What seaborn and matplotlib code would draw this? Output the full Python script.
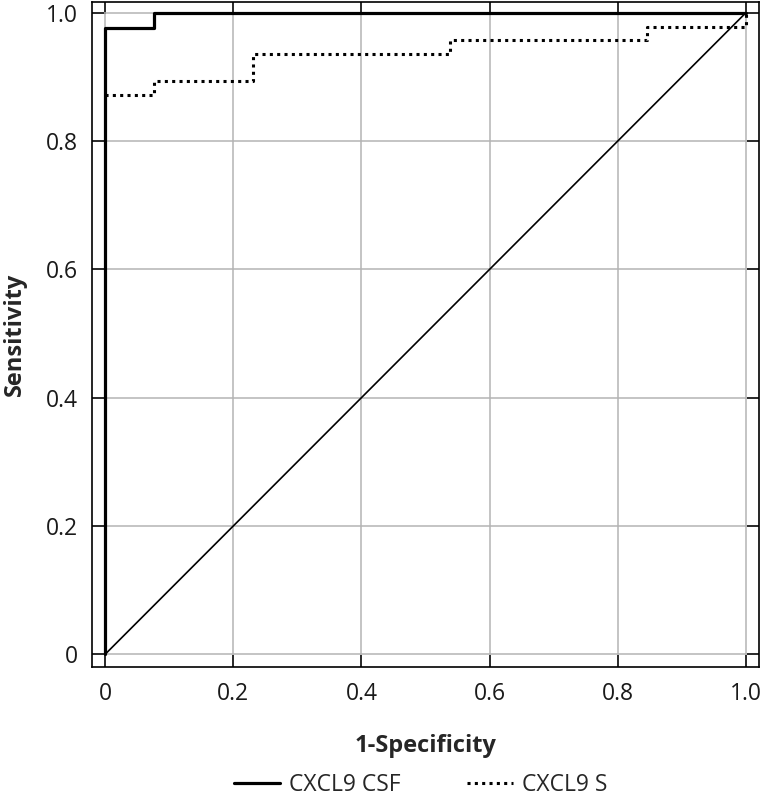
import numpy as np
import pandas as pd
import matplotlib
matplotlib.use("Agg")
import matplotlib.pyplot as plt
import seaborn as sns
from matplotlib.lines import Line2D

# ROC step coordinates
csf_fpr = [0, 0, 1/13, 1/13, 1.0]
csf_tpr = [0, 42/43, 42/43, 1.0, 1.0]

s_fpr = [0, 1/13, 1/13, 3/13, 3/13, 7/13, 7/13, 11/13, 11/13, 1.0, 1.0]
s_tpr = [41/47, 41/47, 42/47, 42/47, 44/47, 44/47, 45/47, 45/47, 46/47, 46/47, 1.0]

ref_x = [0, 1]
ref_y = [0, 1]

ticks = [0, 0.2, 0.4, 0.6, 0.8, 1.0]
tick_labels = ["0", "0.2", "0.4", "0.6", "0.8", "1.0"]
series_names = ["CXCL9 CSF", "CXCL9 S"]

sns.set_theme(style="white")
plt.rcParams['font.family'] = ['Open Sans', 'DejaVu Sans']

fig = plt.figure(figsize=(7.65, 7.97), dpi=100)
ax = fig.add_axes([0.1203, 0.163, 0.992 - 0.1203, 0.9975 - 0.163])

df_csf = pd.DataFrame({"x": csf_fpr, "y": csf_tpr})
df_s = pd.DataFrame({"x": s_fpr, "y": s_tpr})
df_ref = pd.DataFrame({"x": ref_x, "y": ref_y})

dot_style = (0, (1, 1.4))

sns.lineplot(data=df_ref, x="x", y="y", sort=False, estimator=None, ax=ax,
             color="black", lw=1.2, zorder=3)
sns.lineplot(data=df_s, x="x", y="y", sort=False, estimator=None, ax=ax,
             color="black", lw=2.2, linestyle=dot_style, zorder=4)
sns.lineplot(data=df_csf, x="x", y="y", sort=False, estimator=None, ax=ax,
             color="black", lw=2.3, zorder=5)

ax.set_xlim(-0.0205, 1.0205)
ax.set_ylim(-0.02, 1.017)
ax.set_xticks(ticks)
ax.set_xticklabels(tick_labels)
ax.set_yticks(ticks)
ax.set_yticklabels(tick_labels)
ax.grid(True, color="#b4b4b4", lw=1.1)
ax.set_axisbelow(True)
for sp in ax.spines.values():
    sp.set_color("black")
    sp.set_linewidth(1.2)
ax.tick_params(axis="both", which="both", direction="in", length=8.5, width=1.1,
               color="black", top=True, right=True, bottom=True, left=True,
               labelsize=16.5, labelcolor="#1a1a1a")
ax.tick_params(axis="x", pad=11)
ax.tick_params(axis="y", pad=10)

ax.set_xlabel("1-Specificity", fontsize=17, fontweight="bold", labelpad=20)
ax.set_ylabel("Sensitivity", fontsize=17, fontweight="bold", labelpad=14)

handles = [Line2D([], [], color="black", lw=2.3),
           Line2D([], [], color="black", lw=2.2, linestyle=dot_style)]
fig.legend(handles, series_names, loc="lower center", bbox_to_anchor=(0.55, -0.026),
           ncol=2, frameon=False, fontsize=16.5, handlelength=2.0, columnspacing=2.9,
           handletextpad=0.4)

fig.savefig("out.png", dpi=100)
